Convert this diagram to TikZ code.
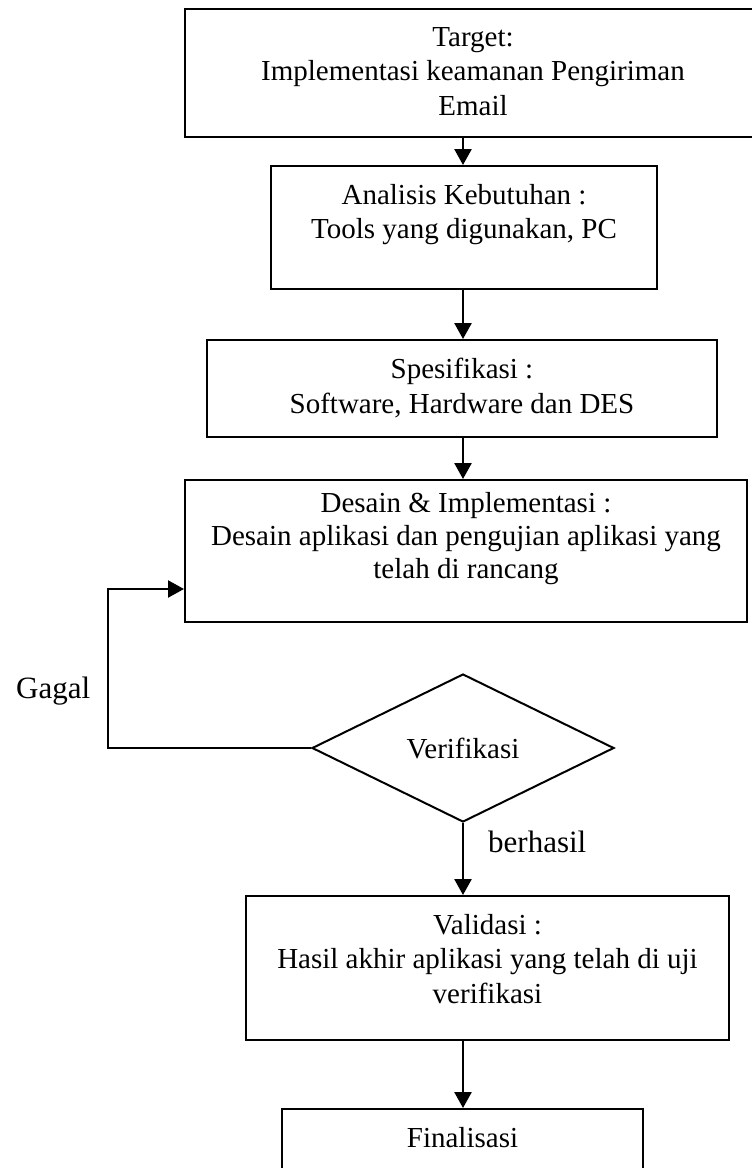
\documentclass[tikz,border=0pt]{standalone}
\usepackage{fontspec}
\setmainfont{Liberation Serif}
\usetikzlibrary{shapes.geometric,arrows.meta}
\begin{document}
\begin{tikzpicture}[x=1pt,y=-1pt,
  box/.style={draw,line width=2pt,inner sep=0pt},
  txt/.style={align=center,anchor=north,inner sep=0pt,font=\fontsize{29}{34.5}\selectfont},
  lbl/.style={inner sep=0pt,font=\fontsize{31}{36}\selectfont},
  arr/.style={line width=2.6pt,-{Triangle[length=16pt,width=17pt]}}]
\useasboundingbox (0,0) rectangle (752,1168);
\coordinate (col) at (463,0);
% boxes
\node[box,minimum width=576pt,minimum height=128pt] (b1) at (473,73) {};
\node[box,minimum width=386pt,minimum height=123pt] (b2) at (464,227.5) {};
\node[box,minimum width=510pt,minimum height=97pt] (b3) at (462,388.5) {};
\node[box,minimum width=562pt,minimum height=142pt] (b4) at (466,551) {};
\node[draw,diamond,line width=2pt,minimum width=302pt,minimum height=148pt,inner sep=0pt] (d) at (463,748) {};
\node[box,minimum width=483pt,minimum height=144pt] (b5) at (487.5,968) {};
\node[box,minimum width=361pt,minimum height=71pt] (b6) at (462.5,1144.5) {};
% texts
\node[txt] (t1) at ([yshift=-19pt]b1.north) {Target:\\Implementasi keamanan Pengiriman\\Email};
\node[txt] (t2) at ([yshift=-19pt]b2.north) {Analisis Kebutuhan :\\Tools yang digunakan, PC};
\node[txt] (t3) at ([yshift=-19pt]b3.north) {Spesifikasi :\\Software, Hardware dan DES};
\node[txt,font=\fontsize{29}{33}\selectfont] (t4) at ([yshift=-13pt]b4.north) {Desain \& Implementasi :\\Desain aplikasi dan pengujian aplikasi yang\\telah di rancang};
\node[txt,anchor=center] (td) at (d.center) {Verifikasi};
\node[txt] (t5) at ([yshift=-19pt]b5.north) {Validasi :\\Hasil akhir aplikasi yang telah di uji\\verifikasi};
\node[txt] (t6) at ([yshift=-19pt]b6.north) {Finalisasi};
% labels
\node[lbl,anchor=base west] (gagal) at (16,698) {Gagal};
\node[lbl,anchor=base west] (berhasil) at (488,852) {berhasil};
% connectors
\coordinate (lp) at (108,589);
\draw[arr] (b1.south -| col) -- (b2.north -| col);
\draw[arr] (b2.south -| col) -- (b3.north -| col);
\draw[arr] (b3.south -| col) -- (b4.north -| col);
\draw[arr,line width=2.2pt] (d.west) -| (lp) -- (lp -| b4.west);
\draw[arr] (d.south) -- (b5.north -| d.south);
\draw[arr] (b5.south -| col) -- (b6.north -| col);
\end{tikzpicture}
\end{document}
